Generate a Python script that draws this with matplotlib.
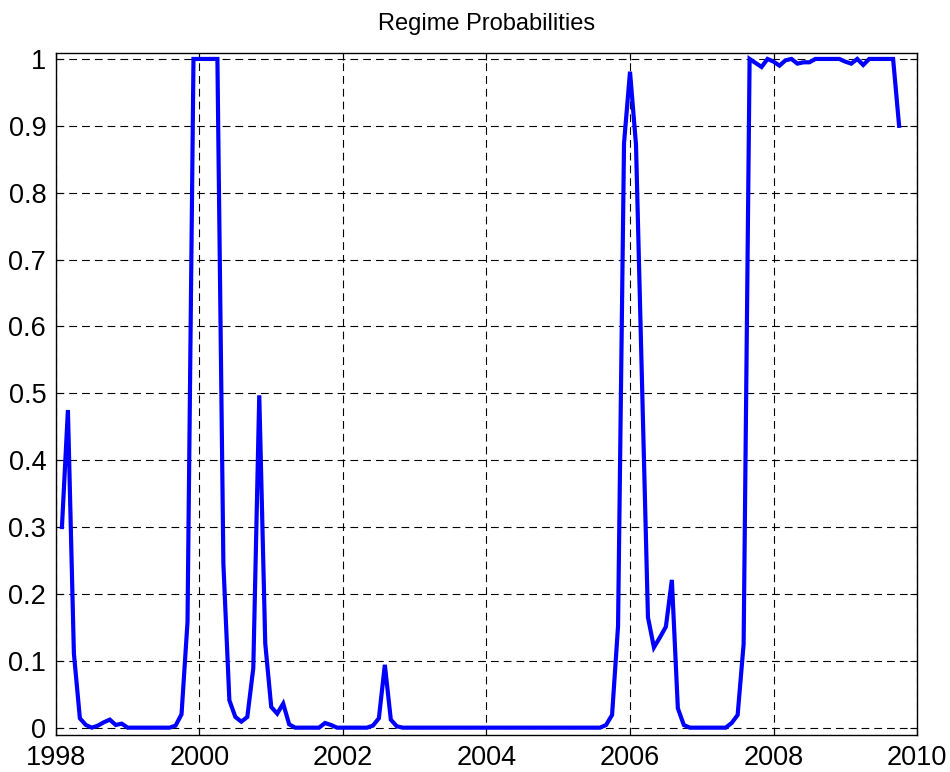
#!/usr/bin/env python3
"""
Regime probabilities over time (monthly, 1998-2009).
"""
import matplotlib
matplotlib.use("Agg")
import matplotlib.pyplot as plt
import numpy as np

# monthly smoothed probability of regime 2, starting Feb 1998
start_year = 1998
first_month = 1  # months after Jan 1998
regime_prob = [
    0.300, 0.475, 0.111, 0.014, 0.004, 0.000, 0.003, 0.008, 0.012, 0.004,
    0.006, 0.000, 0.000, 0.000, 0.000, 0.000, 0.000, 0.000, 0.000, 0.003,
    0.020, 0.158, 1.000, 1.000, 1.000, 1.000, 1.000, 0.245, 0.041, 0.016,
    0.009, 0.016, 0.089, 0.497, 0.126, 0.031, 0.021, 0.036, 0.005, 0.000,
    0.000, 0.000, 0.000, 0.000, 0.007, 0.004, 0.000, 0.000, 0.000, 0.000,
    0.000, 0.000, 0.003, 0.014, 0.094, 0.012, 0.002, 0.000, 0.000, 0.000,
    0.000, 0.000, 0.000, 0.000, 0.000, 0.000, 0.000, 0.000, 0.000, 0.000,
    0.000, 0.000, 0.000, 0.000, 0.000, 0.000, 0.000, 0.000, 0.000, 0.000,
    0.000, 0.000, 0.000, 0.000, 0.000, 0.000, 0.000, 0.000, 0.000, 0.000,
    0.000, 0.004, 0.019, 0.152, 0.874, 0.981, 0.872, 0.520, 0.165, 0.120,
    0.135, 0.151, 0.221, 0.029, 0.004, 0.000, 0.000, 0.000, 0.000, 0.000,
    0.000, 0.000, 0.007, 0.019, 0.125, 1.000, 0.994, 0.988, 1.000, 0.996,
    0.990, 0.998, 1.000, 0.993, 0.995, 0.995, 1.000, 1.000, 1.000, 1.000,
    1.000, 0.996, 0.993, 1.000, 0.991, 1.000, 1.000, 1.000, 1.000, 1.000,
    0.900,
]

x_ticks = [1998, 2000, 2002, 2004, 2006, 2008, 2010]
y_ticks = [0, 0.1, 0.2, 0.3, 0.4, 0.5, 0.6, 0.7, 0.8, 0.9, 1]
y_tick_labels = ["0", "0.1", "0.2", "0.3", "0.4", "0.5", "0.6", "0.7", "0.8", "0.9", "1"]


def main() -> None:
    plt.rcParams["font.family"] = ["Liberation Sans", "DejaVu Sans"]

    months = start_year + (first_month + np.arange(len(regime_prob))) / 12.0

    fig = plt.figure(figsize=(9.5, 7.72), dpi=100)
    ax = fig.add_axes([0.0589, 0.0479, 0.9064, 0.8831])

    ax.plot(months, regime_prob, color="#0000ff", linewidth=3, solid_joinstyle="miter")

    ax.set_xlim(1998, 2010)
    ax.set_ylim(-0.011, 1.0085)
    ax.set_xticks(x_ticks)
    ax.set_yticks(y_ticks)
    ax.set_yticklabels(y_tick_labels)
    ax.tick_params(direction="in", top=True, right=True, length=5, width=0.8,
                   labelsize=19.5, pad=7)
    ax.grid(True, color="black", linestyle=(0, (7, 4.5)), linewidth=0.8)
    for spine in ax.spines.values():
        spine.set_linewidth(1.0)
    ax.set_title("Regime Probabilities", fontsize=17, pad=17)

    fig.savefig("out.png", dpi=100)
    plt.close(fig)


if __name__ == "__main__":
    main()
